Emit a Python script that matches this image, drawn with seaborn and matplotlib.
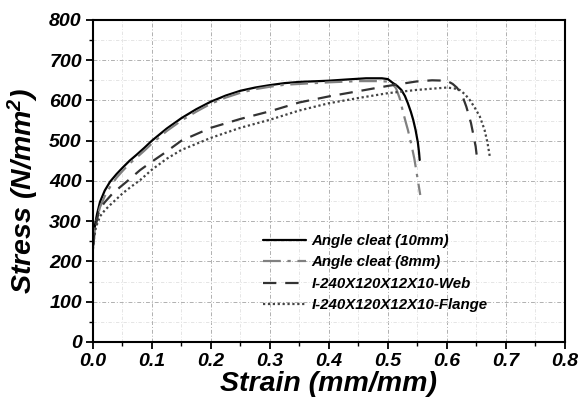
import matplotlib
matplotlib.use("Agg")
import matplotlib.pyplot as plt
import seaborn as sns
import pandas as pd
from matplotlib.ticker import MultipleLocator

# Data
x_10mm = [0, 0.002, 0.004, 0.007, 0.012, 0.02, 0.029, 0.04, 0.051, 0.062, 0.074, 0.087, 0.1, 0.125, 0.15, 0.175, 0.2, 0.225, 0.25, 0.275, 0.3, 0.325, 0.35, 0.4, 0.43, 0.463, 0.49, 0.5, 0.508, 0.516, 0.523, 0.529, 0.534, 0.539, 0.543, 0.547, 0.551, 0.553, 0.554]
y_10mm = [240, 275, 295, 318, 348, 376, 398, 417, 434, 450, 465, 482, 500, 530, 556, 578, 597, 612, 624, 632, 638, 643, 646, 649, 652, 655, 655, 653, 644, 636, 626, 611, 593, 572, 552, 527, 495, 470, 452]

x_8mm = [0, 0.002, 0.004, 0.007, 0.012, 0.02, 0.029, 0.04, 0.051, 0.062, 0.074, 0.087, 0.1, 0.125, 0.15, 0.175, 0.2, 0.225, 0.25, 0.275, 0.3, 0.325, 0.35, 0.4, 0.45, 0.48, 0.5, 0.508, 0.514, 0.52, 0.525, 0.53, 0.534, 0.54, 0.545, 0.55, 0.555]
y_8mm = [240, 270, 288, 308, 335, 362, 385, 408, 426, 443, 458, 475, 493, 524, 550, 572, 592, 607, 619, 628, 634, 639, 641, 645, 648, 648, 647, 641, 630, 606, 576, 548, 527, 490, 455, 410, 365]

x_web = [0, 0.002, 0.005, 0.009, 0.014, 0.02, 0.034, 0.057, 0.08, 0.1, 0.119, 0.15, 0.2, 0.25, 0.3, 0.35, 0.4, 0.45, 0.5, 0.548, 0.575, 0.6, 0.61, 0.617, 0.622, 0.628, 0.633, 0.637, 0.641, 0.645, 0.649, 0.651]
y_web = [235, 262, 290, 318, 335, 347, 370, 398, 427, 448, 467, 500, 532, 554, 573, 595, 610, 623, 636, 647, 650, 649, 641, 632, 622, 605, 585, 565, 544, 515, 485, 460]

x_flange = [0, 0.002, 0.005, 0.012, 0.02, 0.029, 0.04, 0.051, 0.065, 0.08, 0.1, 0.125, 0.15, 0.2, 0.25, 0.3, 0.35, 0.4, 0.45, 0.5, 0.548, 0.6, 0.612, 0.622, 0.631, 0.639, 0.647, 0.656, 0.664, 0.669, 0.673]
y_flange = [230, 258, 285, 312, 327, 340, 355, 370, 386, 402, 428, 455, 477, 507, 532, 552, 575, 593, 606, 618, 626, 632, 630, 626, 615, 601, 583, 560, 527, 495, 460]

labels = ["Angle cleat (10mm)", "Angle cleat (8mm)", "I-240X120X12X10-Web", "I-240X120X12X10-Flange"]
x_ticks = [0.0, 0.1, 0.2, 0.3, 0.4, 0.5, 0.6, 0.7, 0.8]
y_ticks = [0, 100, 200, 300, 400, 500, 600, 700, 800]

sns.set_style("white")
plt.rcParams['font.family'] = ['Liberation Sans', 'DejaVu Sans']
plt.rcParams['mathtext.fontset'] = 'custom'
plt.rcParams['mathtext.rm'] = 'Liberation Sans:italic:bold'
plt.rcParams['mathtext.it'] = 'Liberation Sans:italic:bold'
plt.rcParams['mathtext.bf'] = 'Liberation Sans:italic:bold'
plt.rcParams['text.color'] = 'black'
plt.rcParams['axes.labelcolor'] = 'black'
plt.rcParams['xtick.color'] = 'black'
plt.rcParams['ytick.color'] = 'black'

fig = plt.figure(figsize=(5.81, 4.07), dpi=100)
ax = fig.add_axes([0.160, 0.160, 0.812, 0.791])

series = [
    (x_10mm, y_10mm, dict(color="black", linestyle="-", linewidth=1.6)),
    (x_8mm, y_8mm, dict(color="#808080", linestyle=(0, (8, 3, 1.5, 3)), linewidth=1.6)),
    (x_web, y_web, dict(color="#333333", linestyle=(0, (6, 4)), linewidth=1.6)),
    (x_flange, y_flange, dict(color="#444444", linestyle=(0, (1, 1.2)), linewidth=1.6)),
]
for (xs, ys, st), lab in zip(series, labels):
    df = pd.DataFrame({"x": xs, "y": ys})
    sns.lineplot(data=df, x="x", y="y", sort=False, ax=ax, label=lab, **st)

ax.set_xlim(0, 0.8)
ax.set_ylim(0, 800)
ax.set_xticks(x_ticks)
ax.set_yticks(y_ticks)
ax.set_xticklabels([f"{v:.1f}" for v in x_ticks])
ax.set_yticklabels([str(v) for v in y_ticks])
ax.xaxis.set_minor_locator(MultipleLocator(0.05))
ax.yaxis.set_minor_locator(MultipleLocator(50))

ax.grid(which="major", color="#b0b0b0", linestyle=(0, (4, 2, 1, 2)), linewidth=0.7)
ax.grid(which="minor", color="#e0e0e0", linestyle=(0, (4, 2, 1, 2)), linewidth=0.6)
ax.set_axisbelow(True)

for s in ax.spines.values():
    s.set_color("black")
    s.set_linewidth(1.5)

ax.tick_params(which="major", direction="out", length=5, width=1.3, colors="black",
               labelsize=14, bottom=True, left=True, top=False, right=False, pad=3)
ax.tick_params(which="minor", direction="out", length=3, width=1.0, colors="black",
               bottom=True, left=True, top=False, right=False)
for lbl in ax.get_xticklabels() + ax.get_yticklabels():
    lbl.set_fontweight("bold")
    lbl.set_fontstyle("italic")

ax.set_xlabel("Strain (mm/mm)", fontsize=20.5, fontweight="bold", fontstyle="italic", labelpad=1)
ax.set_ylabel(r"Stress (N/mm$^2$)", fontsize=20.5, fontweight="bold", fontstyle="italic")
ax.yaxis.set_label_coords(-0.11, 0.47)

leg = ax.legend(loc="lower right", bbox_to_anchor=(0.865, 0.05), frameon=False,
                prop={"weight": "bold", "style": "italic", "size": 10.8},
                handlelength=2.9, handletextpad=0.35, labelspacing=0.5)

fig.savefig("out.png", dpi=100)
